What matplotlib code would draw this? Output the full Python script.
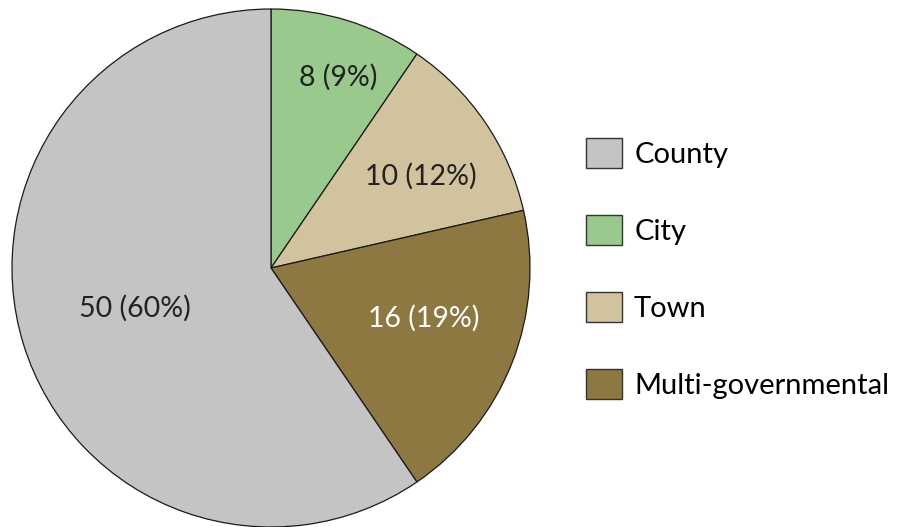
import matplotlib
matplotlib.use("Agg")
import matplotlib.pyplot as plt
import numpy as np
from matplotlib.patches import Patch

plt.rcParams['font.family'] = ['Lato', 'DejaVu Sans']

# Data (wedge order clockwise from top)
categories = ["City", "Town", "Multi-governmental", "County"]
values = [8, 10, 16, 50]
value_labels = ["8 (9%)", "10 (12%)", "16 (19%)", "50 (60%)"]
legend_order = ["County", "City", "Town", "Multi-governmental"]

colors = {"County": "#C4C4C4", "City": "#99C98C", "Town": "#D1C39E", "Multi-governmental": "#8E7842"}
label_colors = ["#222222", "#222222", "#FFFFFF", "#222222"]
label_radii = [0.78, 0.68, 0.62, 0.55]
label_angle_shift = [-2.2, -2.8, 3.2, -0.7]  # degrees (negative = clockwise)

W, H = 897, 527
fig = plt.figure(figsize=(W / 100, H / 100), dpi=100)
cx, cy, r = 271, 268, 259
ax = fig.add_axes([(cx - r) / W, (H - cy - r) / H, 2 * r / W, 2 * r / H])

wedges, _ = ax.pie(values, colors=[colors[c] for c in categories], startangle=90,
                   counterclock=False, radius=1.0,
                   wedgeprops=dict(edgecolor="#1a1a1a", linewidth=0.9))
ax.set_xlim(-1, 1)
ax.set_ylim(-1, 1)
ax.set_aspect("equal")
ax.axis("off")

for w, lab, rr, sh, col in zip(wedges, value_labels, label_radii, label_angle_shift, label_colors):
    ang = np.deg2rad((w.theta1 + w.theta2) / 2 + sh)
    ax.text(rr * np.cos(ang), rr * np.sin(ang), lab, ha="center", va="center",
            fontsize=20.5, color=col)

handles = [Patch(facecolor=colors[c], edgecolor="#333333", linewidth=1.0) for c in legend_order]
fig.legend(handles, legend_order, loc="upper left", bbox_to_anchor=(586 / W, 1 - 138 / H),
           frameon=False, fontsize=21, handlelength=1.23, handleheight=1.23,
           labelspacing=1.59, handletextpad=0.42, borderpad=0, borderaxespad=0)

fig.savefig("out.png", dpi=100)
